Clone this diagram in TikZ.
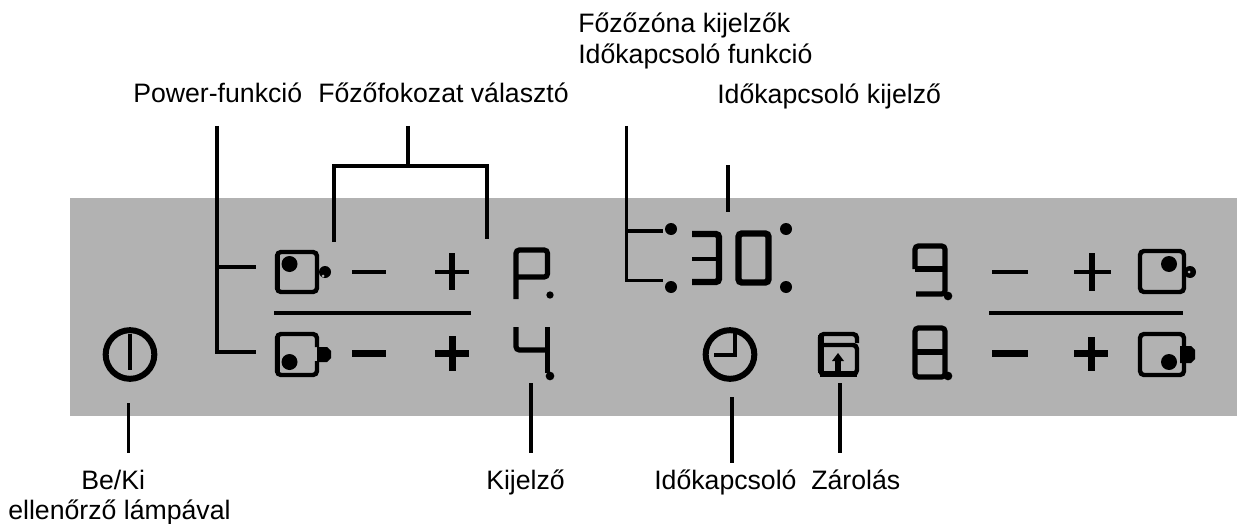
\documentclass[tikz,border=0pt]{standalone}
\usepackage{fontspec}
\setmainfont{Liberation Sans}

\definecolor{panelgray}{HTML}{B2B2B2}
\tikzstyle{felirat} = [inner sep=0pt, anchor=base west, font=\fontsize{20}{24}\selectfont]
\tikzstyle{vezeto} = [draw=black, line width=3pt]
\tikzstyle{vekony} = [draw=black, line width=2.25pt]
\tikzstyle{keret} = [draw=black, line width=3.3pt, rounded corners=3pt]
\tikzstyle{szegmens} = [draw=black, line width=3.9pt, rounded corners=2.5pt]
\tikzstyle{vekonyjel} = [draw=black, line width=3.5pt]
\tikzstyle{vastagjel} = [draw=black, line width=5.25pt]
\tikzstyle{kor} = [draw=black, circle, line width=4.5pt, minimum size=36.5pt, inner sep=0pt]
\tikzstyle{pont} = [fill=black, circle, minimum size=12pt, inner sep=0pt]
\tikzstyle{kispont} = [fill=black, circle, minimum size=5.5pt, inner sep=0pt]
\tikzstyle{kettospont} = [fill=black, circle, minimum size=9pt, inner sep=0pt]

\begin{document}
\begin{tikzpicture}[x=0.75pt, y=-0.75pt]
\useasboundingbox (0,0) rectangle (1237,524);
\fill[panelgray] (70,198) rectangle (1237,416);

% feliratok
\node [felirat] (zonak) at (578,33) {Főzőzóna kijelzők};
\node [felirat] (funkcio) at (578,64) {Időkapcsoló funkció};
\node [felirat] (power) at (133,103) {Power-funkció};
\node [felirat] (fokozat) at (318,103) {Főzőfokozat választó};
\node [felirat] (idokijelzo) at (717,104) {Időkapcsoló kijelző};
\node [felirat] (beki) at (81,489) {Be/Ki};
\node [felirat] (lampa) at (8,519) {ellenőrző lámpával};
\node [felirat] (kijelzo) at (486,489) {Kijelző};
\node [felirat] (idokapcsolo) at (654,489) {Időkapcsoló};
\node [felirat] (zarolas) at (811,489) {Zárolás};

% kapcsolo es ora
\node [kor] (bekor) at (130,354.5) {};
\draw [vezeto] (130,334) -- (130,370);
\node [kor] (orakor) at (730,354.5) {};
\draw [vezeto] (714,355) -- (734.5,355) -- (734.5,330);

% bal oldali ikonok
\draw [keret] (277,252) rectangle (317,292);
\draw [vezeto, line width=4pt] (277.5,254) -- (277.5,290);
\node [pont] (dotfent) at (289.5,264) {};
\node [pont, minimum size=9pt] (lumpfent) at (325,272) {};
\fill [panelgray] (323,276) circle (1.5);
\draw [keret] (317,347) -- (317,334) -- (277,334) -- (277,375) -- (317,375) -- (317,361);
\draw [vezeto, line width=4pt] (277.5,336) -- (277.5,373);
\node [pont] (dotlent) at (289.5,362) {};
\fill (317,347) -- (327,347) -- (331,351) -- (331,358) -- (327,362) -- (317,362) -- cycle;

% jobb oldali ikonok
\draw [keret] (1140,251) rectangle (1184,292);
\node [pont] (dotjobbfent) at (1169,264) {};
\node [pont, minimum size=9pt] (lumpjobbfent) at (1190,272) {};
\fill [panelgray] (1189,272) circle (1.5);
\draw [keret] (1184,346) -- (1184,334) -- (1140,334) -- (1140,375) -- (1184,375) -- (1184,363);
\node [pont] (dotjobblent) at (1169,362) {};
\fill (1180,346) -- (1191,346) -- (1195,350) -- (1195,359) -- (1191,363) -- (1180,363) -- cycle;

% minusz, plusz
\draw [vekonyjel] (352,272) -- (386,272);
\draw [vekonyjel] (435,272) -- (469,272);
\draw [vekonyjel, line width=4.5pt] (452,253) -- (452,290);
\draw [vastagjel] (352,353) -- (386,353);
\draw [vastagjel] (435,353) -- (469,353) (452,336) -- (452,371);
\draw [vekonyjel] (992,272) -- (1028,272);
\draw [vekonyjel] (1074,272) -- (1111,272);
\draw [vekonyjel, line width=4.5pt] (1092,253) -- (1092,291);
\draw [vastagjel] (992,353) -- (1028,353);
\draw [vastagjel] (1074,353) -- (1108,353) (1091,337) -- (1091,371);
\draw [vekonyjel] (274,313) -- (471,313);
\draw [vekonyjel] (989,313) -- (1183,313);

% kijelzok
\draw [szegmens] (516,299) -- (516,250) -- (547.5,250) -- (547.5,277) -- (516,277);
\node [kispont] (dotp) at (550,295) {};
\draw [szegmens] (516,327) -- (516,350) -- (547.5,350);
\draw [szegmens] (547.5,327) -- (547.5,373);
\node [kispont, minimum size=6.5pt] (dotnegy) at (550,376) {};
\draw [szegmens, line width=4.8pt] (692,234) -- (719,234) -- (719,282) -- (692,282);
\draw [vekonyjel] (692,259) -- (719,259);
\draw [szegmens, line width=4.8pt] (738.5,233.5) rectangle (768.5,282.5);
\node [kettospont] (dot1) at (671,229) {};
\node [kettospont] (dot2) at (671,287) {};
\node [kettospont] (dot3) at (786,229) {};
\node [kettospont] (dot4) at (786,287) {};
\draw [szegmens] (915,269) -- (915,246) -- (945,246) -- (945,294) -- (916,294);
\draw [szegmens] (915,269) -- (945,269);
\node [kispont, minimum size=6.5pt] (dotkilenc) at (948,296) {};
\draw [szegmens] (915,328) rectangle (945,377);
\draw [szegmens] (915,352) -- (945,352);
\node [kispont, minimum size=6.5pt] (dotnyolc) at (948,376) {};

% zar
\draw [keret] (857,343) -- (857,334) -- (820,334) -- (820,374) -- (857,374) -- (857,345) -- (820,345);
\draw [vezeto, line width=4.5pt] (820.5,335) -- (820.5,373);
\draw [vezeto, line width=4.5pt] (820,373.5) -- (857,373.5);
\draw [vezeto, line width=4.5pt] (838,375) -- (838,360);
\fill (832,361) -- (838,353) -- (844,361) -- cycle;

% vezetekek
\coordinate (powerfent) at (217,126);
\coordinate (powerkozep) at (217,267);
\coordinate (powerlent) at (217,352);
\coordinate (ikonfent) at (256,267);
\coordinate (ikonlent) at (256,352);
\draw [vezeto] (powerfent) -- (powerlent) -- (ikonlent);
\draw [vezeto] (powerkozep) -- (ikonfent);
\coordinate (fokfent) at (408,126);
\coordinate (fokkozep) at (408,166);
\coordinate (fokbal) at (334,242);
\coordinate (fokjobb) at (487,239);
\draw [vezeto] (fokbal) |- (fokkozep) -| (fokjobb);
\draw [vezeto] (fokfent) -- (fokkozep);
\coordinate (zonafent) at (626,126);
\coordinate (zonakozep) at (626,231);
\coordinate (zonalent) at (626,280);
\coordinate (zonapont) at (663,231);
\coordinate (zonapont2) at (663,280);
\draw [vekony] (zonafent) -- (zonalent) -- (zonapont2);
\draw [vezeto] (zonakozep) -- (zonapont);
\coordinate (idofent) at (728,165);
\coordinate (idolent) at (728,212);
\draw [vezeto] (idofent) -- (idolent);
\coordinate (bekezd) at (128,403);
\coordinate (bevege) at (128,453);
\draw [vekony] (bekezd) -- (bevege);
\coordinate (kijkezd) at (531,383);
\coordinate (kijvege) at (531,453);
\draw [vezeto] (kijkezd) -- (kijvege);
\coordinate (orakezd) at (732,397);
\coordinate (oravege) at (732,463);
\draw [vezeto] (orakezd) -- (oravege);
\coordinate (zarkezd) at (840,383);
\coordinate (zarvege) at (840,453);
\draw [vezeto] (zarkezd) -- (zarvege);
\end{tikzpicture}
\end{document}
